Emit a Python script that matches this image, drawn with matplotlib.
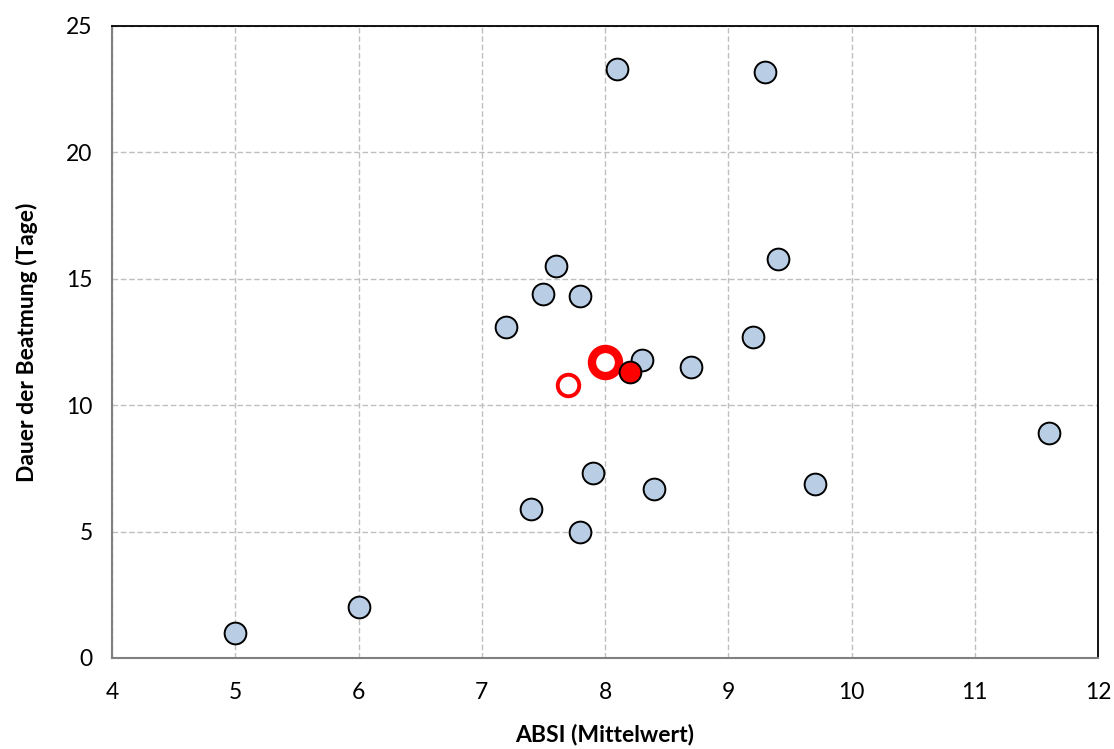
import matplotlib
matplotlib.use("Agg")
import matplotlib.pyplot as plt

plt.rcParams['font.family'] = ['Lato', 'DejaVu Sans']

# Data
absi = [5.0, 6.0, 8.1, 9.3, 7.6, 7.5, 7.8, 7.2, 9.4, 9.2, 8.3, 8.7, 7.9, 7.4, 7.8, 8.4, 9.7, 11.6]
dauer = [1.0, 2.0, 23.3, 23.2, 15.5, 14.4, 14.3, 13.1, 15.8, 12.7, 11.8, 11.5, 7.3, 5.9, 5.0, 6.7, 6.9, 8.9]

open_small_x, open_small_y = [7.7], [10.8]
ring_x, ring_y = [8.0], [11.7]
filled_x, filled_y = [8.2], [11.3]

xticks = [4, 5, 6, 7, 8, 9, 10, 11, 12]
yticks = [0, 5, 10, 15, 20, 25]

fig = plt.figure(figsize=(11.14, 7.49), dpi=100)
ax = fig.add_axes([112/1114, 1-658/749, (1098-112)/1114, (658-26)/749])

ax.scatter(absi, dauer, s=245, c='#B9CDE5', edgecolors='black', linewidths=1.4, zorder=3)
ax.scatter(open_small_x, open_small_y, s=240, facecolors='white', edgecolors='#FF0000', linewidths=2.8, zorder=4)
ax.scatter(ring_x, ring_y, s=380, facecolors='white', edgecolors='#FF0000', linewidths=6, zorder=4)
ax.scatter(filled_x, filled_y, s=245, c='#FF0000', edgecolors='black', linewidths=1.4, zorder=5)

ax.set_xlim(4, 12)
ax.set_ylim(0, 25)
ax.set_xticks(xticks)
ax.set_yticks(yticks)
ax.tick_params(axis='both', length=0, labelsize=16.5)
ax.tick_params(axis='y', pad=14)
ax.tick_params(axis='x', pad=17)
ax.grid(True, color='#BFBFBF', linestyle=(0, (4, 2)), linewidth=1)
ax.set_axisbelow(True)

for s in ['top', 'right']:
    ax.spines[s].set_color('black')
    ax.spines[s].set_linewidth(1.3)
for s in ['left', 'bottom']:
    ax.spines[s].set_color('#808080')
    ax.spines[s].set_linewidth(1.5)

ax.set_xlabel('ABSI (Mittelwert)', fontsize=16.5, fontweight='bold', labelpad=15)
ax.set_ylabel('Dauer der Beatmung (Tage)', fontsize=16.5, fontweight='bold', labelpad=20)

fig.savefig('out.png', dpi=100)
